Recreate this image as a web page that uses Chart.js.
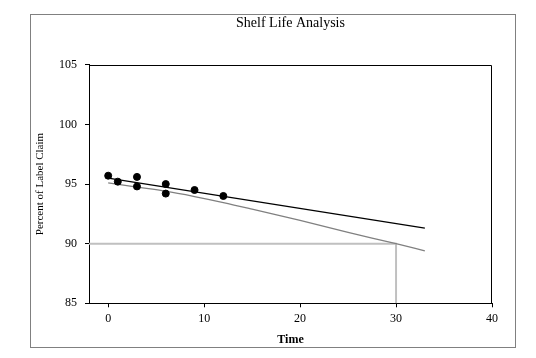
<!DOCTYPE html>
<html>
<head>
<meta charset="utf-8">
<script src="https://cdn.jsdelivr.net/npm/chart.js@4/dist/chart.umd.min.js"></script>
<style>
html,body{margin:0;padding:0;background:#fff;}
#wrap{width:536px;height:358px;position:relative;}
</style>
</head>
<body>
<div id="wrap"><canvas id="c" width="536" height="358"></canvas></div>
<script>
// Observed stability data
const timePoints = [0, 1, 3, 3, 6, 6, 9, 12];
const percentClaim = [95.7, 95.2, 95.6, 94.8, 95.0, 94.2, 94.5, 94.0];
// Regression line
const fitTime = [0, 33];
const fitPercent = [95.5, 91.3];
// Lower confidence bound
const boundTime = [0, 3, 6, 9, 12, 15, 20, 25, 30, 33];
const boundPercent = [95.1, 94.75, 94.4, 93.95, 93.45, 92.9, 91.95, 90.95, 90.0, 89.4];
// Specification limit / shelf-life marker
const specTime = [-2, 30, 30];
const specPercent = [90, 90, 85];
// Tick labels
const xTicks = [0, 10, 20, 30, 40];
const yTicks = [85, 90, 95, 100, 105];

const pairs = (xs, ys) => xs.map((x, i) => ({x: x, y: ys[i]}));
const serif = "'Liberation Serif', 'DejaVu Serif', serif";

const frames = {
  id: 'frames',
  afterDraw(chart) {
    const ctx = chart.ctx, a = chart.chartArea;
    const l = Math.round(a.left), r = Math.round(a.right) - 0.5, t = Math.round(a.top) + 0.5, b = Math.round(a.bottom);
    ctx.save();
    ctx.strokeStyle = '#000';
    ctx.lineWidth = 1;
    ctx.beginPath();
    ctx.moveTo(l, t);
    ctx.lineTo(r, t);
    ctx.lineTo(r, b);
    ctx.stroke();
    ctx.strokeStyle = '#808080';
    ctx.strokeRect(30.5, 14.5, 485, 333);
    ctx.restore();
  }
};

new Chart(document.getElementById('c'), {
  type: 'scatter',
  data: {
    datasets: [
      {
        label: 'Data',
        data: pairs(timePoints, percentClaim),
        backgroundColor: '#000',
        borderColor: '#000',
        pointRadius: 3.5,
        showLine: false
      },
      {
        label: 'Fit',
        data: pairs(fitTime, fitPercent),
        showLine: true,
        borderColor: '#000',
        borderWidth: 1.3,
        pointRadius: 0
      },
      {
        label: 'Lower bound',
        data: pairs(boundTime, boundPercent),
        showLine: true,
        borderColor: '#808080',
        borderWidth: 1.3,
        pointRadius: 0,
        cubicInterpolationMode: 'monotone'
      },
      {
        label: 'Spec',
        data: pairs(specTime, specPercent),
        showLine: true,
        borderColor: '#c0c0c0',
        borderWidth: 2,
        pointRadius: 0
      }
    ]
  },
  options: {
    responsive: false,
    animation: false,
    devicePixelRatio: 1,
    layout: {padding: {left: 0, right: 44, top: 0, bottom: 0}},
    plugins: {
      legend: {display: false},
      tooltip: {enabled: false},
      title: {
        display: true,
        text: 'Shelf Life Analysis',
        fullSize: false,
        color: '#000',
        font: {family: serif, size: 14, weight: 'normal'},
        padding: {top: 15, bottom: 33}
      }
    },
    scales: {
      x: {
        type: 'linear',
        min: -2,
        max: 40,
        afterBuildTicks(s) { s.ticks = xTicks.map(v => ({value: v})); },
        afterFit(s) { s.height = 54.7; },
        grid: {display: true, drawOnChartArea: false, drawTicks: true, tickLength: 4, color: '#000'},
        border: {display: true, color: '#000', width: 1},
        ticks: {color: '#000', font: {family: serif, size: 12}, padding: 4, maxRotation: 0},
        title: {display: true, text: 'Time', color: '#000', font: {family: serif, size: 12, weight: 'bold'}, padding: {top: 0, bottom: 11}}
      },
      y: {
        type: 'linear',
        min: 85,
        max: 105,
        afterBuildTicks(s) { s.ticks = yTicks.map(v => ({value: v})); },
        afterFit(s) { s.width = 89; },
        grid: {display: true, drawOnChartArea: false, drawTicks: true, tickLength: 4, color: '#000'},
        border: {display: true, color: '#000', width: 1},
        ticks: {color: '#000', font: {family: serif, size: 12}, padding: 8},
        title: {display: true, text: 'Percent of Label Claim', color: '#000', font: {family: serif, size: 11}, padding: {top: 34, bottom: 0}}
      }
    }
  },
  plugins: [frames]
});
</script>
</body>
</html>
